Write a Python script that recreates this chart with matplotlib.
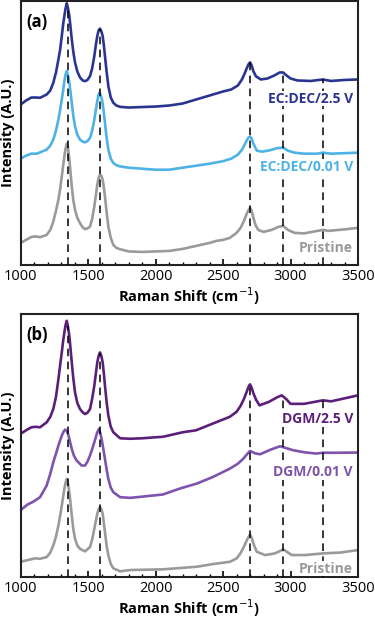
"""
Raman spectra, two stacked panels (EC:DEC and DGM electrolytes).
Intensities are in arbitrary units read off the published figure.
"""

import numpy as np
import matplotlib
matplotlib.use("Agg")
import matplotlib.pyplot as plt
from matplotlib.ticker import MultipleLocator

plt.rcParams["font.family"] = ["Open Sans", "DejaVu Sans"]

# ---- panel (a): EC:DEC ----------------------------------------------------
A_TOP_X = [1000, 1040, 1080, 1120, 1144, 1193, 1220, 1242, 1262, 1280, 1293, 1305,
           1315, 1324, 1333, 1342, 1351, 1361, 1370, 1379, 1390, 1403, 1420, 1440,
           1460, 1477, 1495, 1514, 1530, 1546, 1558, 1568, 1578, 1588, 1598, 1608,
           1617, 1625, 1637, 1650, 1668, 1687, 1710, 1737, 1800, 1900, 2000, 2100,
           2200, 2300, 2400, 2500, 2560, 2610, 2640, 2660, 2675, 2688, 2700, 2712,
           2725, 2745, 2780, 2830, 2880, 2920, 2945, 2970, 3000, 3050, 3150, 3240,
           3300, 3400, 3500]
A_TOP_Y = [160, 164, 167, 167, 166.7, 170, 174, 181.7, 192, 205, 215, 228.3,
           240, 248.3, 256, 261, 256, 248.3, 237, 225, 213, 202, 193, 187,
           184, 183.3, 184.5, 188.3, 196, 208.3, 220, 228.3, 234, 235.7, 233, 228.3,
           219, 208.3, 193, 178.3, 167, 161.7, 159, 157.7, 157, 157.5, 158, 159,
           161, 165, 169, 173, 175, 179, 185, 191, 196, 200, 202, 199,
           193, 188, 185, 186, 189, 192, 192, 189, 186, 184, 183.5, 185,
           183.5, 184.5, 185]

A_MID_X = [1000, 1040, 1080, 1120, 1144, 1193, 1220, 1242, 1262, 1280, 1293, 1305,
           1315, 1324, 1333, 1342, 1351, 1361, 1370, 1379, 1390, 1403, 1420, 1440,
           1460, 1477, 1495, 1514, 1530, 1546, 1558, 1568, 1576, 1583, 1593, 1603,
           1614, 1625, 1637, 1650, 1668, 1687, 1710, 1737, 1800, 1900, 2000, 2100,
           2200, 2300, 2400, 2500, 2560, 2610, 2640, 2660, 2675, 2688, 2700, 2712,
           2725, 2750, 2790, 2850, 2900, 2945, 2980, 3030, 3100, 3200, 3240, 3300,
           3400, 3500]
A_MID_Y = [106, 109, 111, 111, 112.3, 115, 119, 125, 134, 145, 155, 165,
           174, 183.3, 190, 193.3, 189, 181.7, 172, 161.7, 149, 138.3, 130, 125,
           123, 122.3, 123.5, 126.7, 134, 145, 155, 163.3, 169, 171.7, 169.5, 165,
           155, 141.7, 127, 115, 106, 101.7, 99.5, 98.3, 97, 96, 95, 95,
           97, 99, 101, 103.5, 106, 110, 115, 120, 124, 127, 128, 126,
           121, 114, 113, 114.5, 116.5, 117, 114, 112, 111, 111, 112, 111,
           111.5, 112]

A_PRIS_X = [1000, 1040, 1080, 1110, 1144, 1193, 1220, 1242, 1262, 1280, 1293, 1305,
            1315, 1324, 1333, 1342, 1351, 1361, 1370, 1379, 1390, 1403, 1420, 1440,
            1460, 1477, 1495, 1514, 1530, 1546, 1558, 1568, 1578, 1588, 1598, 1608,
            1617, 1625, 1637, 1650, 1668, 1687, 1710, 1737, 1800, 1900, 2000, 2100,
            2200, 2300, 2400, 2450, 2500, 2550, 2600, 2630, 2655, 2675, 2690, 2700,
            2712, 2725, 2740, 2760, 2800, 2860, 2910, 2945, 2980, 3030, 3100, 3200,
            3240, 3280, 3400, 3500]
A_PRIS_Y = [22, 25, 28, 28.5, 27.7, 30, 35, 43.3, 54, 65, 76, 88.3,
            99, 108.3, 116, 121, 117, 105, 92, 78.3, 65, 55, 47, 41.7,
            37.5, 35.7, 36.5, 38.3, 46, 58.3, 70, 80, 87, 90, 89, 85,
            77, 68.3, 53, 38.3, 27, 20, 17, 15.7, 13.5, 13, 13.5, 14,
            16, 19, 22, 24, 25, 27, 32, 37, 44, 51, 55, 57,
            54, 47, 40, 35, 33, 35, 38, 39, 35, 32, 31.5, 34,
            35, 34, 35.5, 37]

# ---- panel (b): DGM ---------------------------------------------------------
B_TOP_X = [1000, 1040, 1080, 1110, 1144, 1193, 1220, 1242, 1262, 1280, 1293, 1305,
           1315, 1324, 1333, 1342, 1351, 1361, 1370, 1379, 1390, 1403, 1420, 1440,
           1460, 1477, 1495, 1514, 1530, 1546, 1558, 1568, 1578, 1588, 1598, 1608,
           1617, 1625, 1637, 1650, 1668, 1687, 1737, 1811, 1900, 2000, 2055, 2200,
           2300, 2420, 2550, 2600, 2630, 2655, 2675, 2690, 2700, 2712, 2725, 2745,
           2770, 2840, 2900, 2935, 2970, 3000, 3100, 3240, 3300, 3400, 3500]
B_TOP_Y = [143, 146.5, 149.5, 150, 149.5, 154.5, 160, 167.8, 180, 197.8, 212, 224.5,
           236, 244.5, 252, 256.2, 250, 241.2, 228, 214.5, 199, 184.5, 174, 167.8,
           164.5, 162.8, 164, 167.8, 178, 191.2, 204, 214.5, 221, 224.5, 221, 214.5,
           203, 191.2, 175, 161.2, 150, 144.5, 138.5, 138, 138.5, 139.5, 140, 144.5,
           146.5, 153, 160, 165, 171, 178, 185, 190.5, 192.5, 189, 183.5, 177,
           171.5, 175, 179.5, 181.5, 177.5, 173, 173, 176.5, 175.5, 178.5, 181.5]

B_MID_X = [1000, 1050, 1094, 1144, 1193, 1220, 1242, 1262, 1280, 1293, 1305, 1318,
           1330, 1342, 1355, 1367, 1379, 1395, 1415, 1452, 1477, 1495, 1514, 1530,
           1546, 1558, 1568, 1580, 1590, 1600, 1612, 1625, 1637, 1650, 1668, 1687,
           1737, 1811, 1900, 2055, 2181, 2307, 2426, 2552, 2610, 2651, 2692, 2700,
           2735, 2775, 2850, 2922, 3020, 3100, 3190, 3240, 3350, 3500]
B_MID_Y = [66.5, 72, 75, 79.5, 91.2, 103, 114.5, 123, 131.2, 136.5, 141.2, 145,
           147.2, 146, 141.2, 134.5, 127.8, 121, 116.2, 111.2, 111.2, 115, 121.2, 127.5,
           134.5, 140, 144.5, 147.8, 144, 137.8, 128.5, 117.8, 107.5, 97.8, 89, 84.5,
           79.5, 78.8, 80, 82.2, 88.2, 93.2, 99.8, 108.2, 113, 118.2, 124.8, 125.8,
           123.5, 122.5, 127, 130.5, 126.5, 124.5, 123.2, 124, 124, 124.2]

B_PRIS_X = [1000, 1107, 1144, 1193, 1220, 1242, 1262, 1280, 1293, 1305, 1315, 1324,
            1333, 1342, 1351, 1361, 1370, 1379, 1390, 1403, 1420, 1440, 1477, 1514,
            1530, 1546, 1558, 1568, 1578, 1588, 1598, 1608, 1617, 1625, 1637, 1650,
            1668, 1687, 1737, 1811, 2055, 2305, 2426, 2552, 2601, 2630, 2655, 2675,
            2690, 2700, 2712, 2725, 2750, 2811, 2885, 2947, 3009, 3107, 3243, 3367,
            3500]
B_PRIS_Y = [14.8, 18.2, 17.8, 19.5, 24, 31.2, 40, 51.2, 61, 71.2, 80, 87.8,
            94, 97.8, 93, 84.5, 73, 61.2, 48, 37.8, 31, 27.8, 25.2, 29.5,
            37, 47.8, 56, 62.8, 67.5, 69.5, 67.5, 62.8, 53, 44.5, 31, 21.2,
            12.5, 8.2, 5.2, 6.5, 7.2, 9.8, 12.5, 14.8, 18.2, 23.5, 30, 36,
            40, 42, 39, 33, 24.8, 21.5, 23.2, 27.2, 21.5, 21.5, 23.2, 24,
            26.5]

PEAK_LINES = [1350, 1590, 2700, 2945, 3240]
XTICKS = [1000, 1500, 2000, 2500, 3000, 3500]

A_LABELS = ["EC:DEC/2.5 V", "EC:DEC/0.01 V", "Pristine"]
A_COLORS = ["#2a3592", "#4db3e6", "#9a9a9a"]
B_LABELS = ["DGM/2.5 V", "DGM/0.01 V", "Pristine"]
B_COLORS = ["#5b1f7a", "#7e53ad", "#9a9a9a"]


def draw_panel(ax, series, labels, colors, label_y, tag):
    for (x, y), c in zip(series, colors):
        ax.plot(x, y, color=c, lw=1.9, solid_joinstyle="round",
                solid_capstyle="round", zorder=2)

    top_x, top_y = series[0]
    for p in PEAK_LINES:
        ax.plot([p, p], [0, np.interp(p, top_x, top_y)], color="black",
                lw=1.1, ls=(0, (5, 3.5)), zorder=3)

    for lab, c, ly in zip(labels, colors, label_y):
        ax.text(3462, ly, lab, color=c, fontsize=10, fontweight="bold",
                ha="right", va="center", zorder=4,
                bbox=dict(facecolor="white", edgecolor="none", pad=0.6))

    ax.text(0.018, 0.92, tag, transform=ax.transAxes, fontsize=12,
            fontweight="bold", ha="left", va="center")

    ax.set_xlim(1000, 3500)
    ax.set_ylim(0, 263)
    ax.set_xticks(XTICKS)
    ax.xaxis.set_minor_locator(MultipleLocator(100))
    ax.tick_params(axis="x", which="major", direction="in", length=4.5,
                   width=1.2, labelsize=10.5, pad=3)
    ax.tick_params(axis="x", which="minor", direction="in", length=2.5, width=1)
    ax.set_yticks([])
    for s in ax.spines.values():
        s.set_linewidth(1.5)
        s.set_color("#222222")
    ax.set_xlabel("Raman Shift (cm$^{-1}$)", fontsize=10.5, fontweight="bold",
                  labelpad=1)
    ax.set_ylabel("Intensity (A.U.)", fontsize=10.5, fontweight="bold",
                  labelpad=4)


fig = plt.figure(figsize=(3.75, 6.27), dpi=100)
ax_a = fig.add_axes([0.055, 0.5774, 0.8997, 0.4206])
ax_b = fig.add_axes([0.055, 0.0805, 0.8997, 0.4187])

draw_panel(ax_a,
           [(A_TOP_X, A_TOP_Y), (A_MID_X, A_MID_Y), (A_PRIS_X, A_PRIS_Y)],
           A_LABELS, A_COLORS, [166, 98, 17], "(a)")
draw_panel(ax_b,
           [(B_TOP_X, B_TOP_Y), (B_MID_X, B_MID_Y), (B_PRIS_X, B_PRIS_Y)],
           B_LABELS, B_COLORS, [158, 105, 8], "(b)")

fig.savefig("out.png", dpi=100)
